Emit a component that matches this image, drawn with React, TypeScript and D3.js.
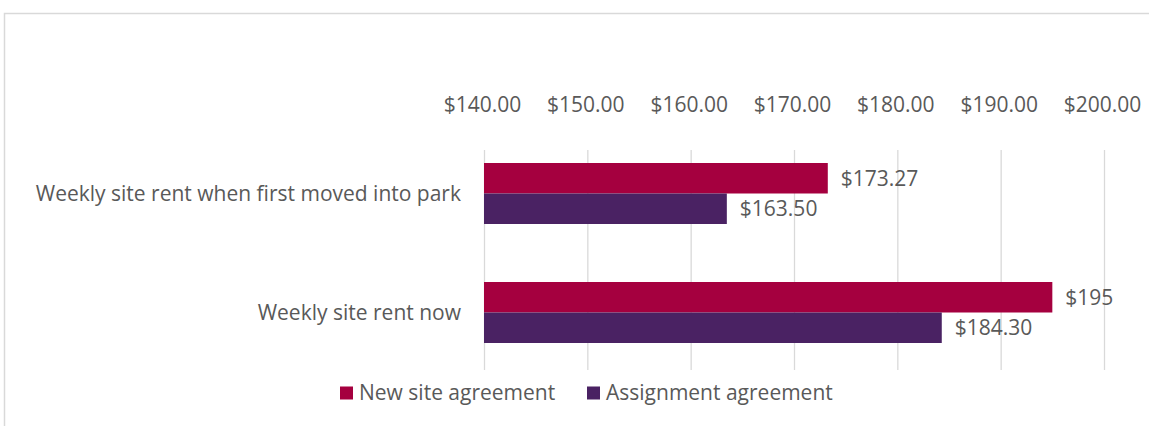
import React, { useEffect, useRef } from 'react';
import { axisTop, scaleBand, scaleLinear, select } from 'd3';

const categories = ['Weekly site rent when first moved into park', 'Weekly site rent now'];
const seriesNames = ['New site agreement', 'Assignment agreement'];
const newSite = [173.27, 195];
const assignment = [163.5, 184.3];
const valueLabels = [['$173.27', '$163.50'], ['$195', '$184.30']];
const tickValues = [140, 150, 160, 170, 180, 190, 200];
const colors = ['#A5003F', '#4A2263'];

const W = 1149, H = 426;

export default function App() {
  const svgRef = useRef<SVGSVGElement>(null);

  useEffect(() => {
    const svg = select(svgRef.current);
    svg.selectAll('*').remove();
    const font = '"Open Sans", Lato, sans-serif';
    const fs = 21;
    const textColor = '#595959';

    // chart frame (cropped on right/bottom)
    svg.append('rect')
      .attr('x', 4.5).attr('y', 13.5)
      .attr('width', W + 10).attr('height', H + 10)
      .attr('fill', 'white').attr('stroke', '#D9D9D9').attr('stroke-width', 1.5);

    const x = scaleLinear().domain([140, 200]).range([484, 1104]);
    const y = scaleBand().domain(categories).range([134, 372]).paddingInner(0).paddingOuter(0);
    const yInner = scaleBand().domain(seriesNames).range([0, 61]);

    // gridlines
    svg.append('g').selectAll('line').data(tickValues).join('line')
      .attr('x1', d => x(d) + 0.5).attr('x2', d => x(d) + 0.5)
      .attr('y1', 150).attr('y2', 370)
      .attr('stroke', '#D9D9D9').attr('stroke-width', 1.3);

    // top axis labels
    const ax = svg.append('g').attr('transform', 'translate(0,112)')
      .call(axisTop(x).tickValues(tickValues).tickSize(0).tickPadding(0).tickFormat(d => `$${(+d).toFixed(2)}`));
    ax.select('.domain').remove();
    ax.selectAll('text').attr('font-family', font).attr('font-size', fs).attr('fill', textColor)
      .attr('dy', 0).attr('dx', -2);

    const series = [newSite, assignment];
    const barTop = (i: number) => y(categories[i])! + y.bandwidth() / 2 - 30.5;

    // bars
    series.forEach((vals, s) => {
      svg.append('g').selectAll('rect').data(vals).join('rect')
        .attr('x', x(140))
        .attr('y', (_, i) => barTop(i) + yInner(seriesNames[s])!)
        .attr('width', d => x(d) - x(140))
        .attr('height', yInner.bandwidth())
        .attr('fill', colors[s]);

      svg.append('g').selectAll('text').data(vals).join('text')
        .attr('x', d => x(d) + 13)
        .attr('y', (_, i) => barTop(i) + yInner(seriesNames[s])! + yInner.bandwidth() / 2)
        .attr('dy', '0.35em')
        .attr('font-family', font).attr('font-size', fs).attr('fill', textColor)
        .text((_, i) => valueLabels[i][s]);
    });

    // category labels
    svg.append('g').selectAll('text').data(categories).join('text')
      .attr('x', 461)
      .attr('y', d => y(d)! + y.bandwidth() / 2)
      .attr('dy', '0.35em')
      .attr('text-anchor', 'end')
      .attr('font-family', font).attr('font-size', fs).attr('fill', textColor)
      .text(d => d);

    // legend
    const legendX = [340, 587];
    const lg = svg.append('g').selectAll('g').data(seriesNames).join('g')
      .attr('transform', (_, i) => `translate(${legendX[i]},393)`);
    lg.append('rect').attr('x', 0).attr('y', -6.5).attr('width', 13).attr('height', 13)
      .attr('fill', (_, i) => colors[i]);
    lg.append('text').attr('x', 19).attr('dy', '0.35em')
      .attr('font-family', font).attr('font-size', fs).attr('fill', textColor)
      .text(d => d);
  }, []);

  return (
    <svg ref={svgRef} width={W} height={H}
      style={{ position: 'absolute', left: 0, top: 0, background: 'white' }} />
  );
}
